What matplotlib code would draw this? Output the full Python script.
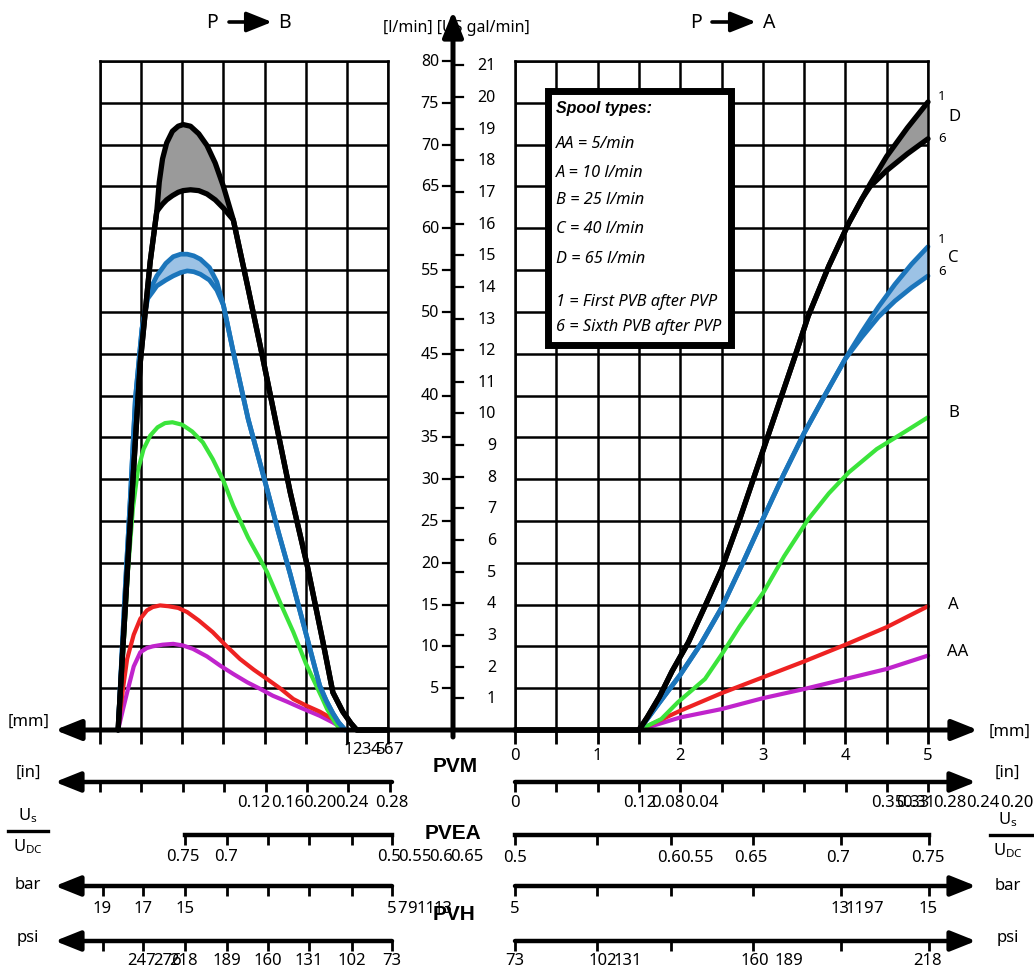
import numpy as np
import matplotlib.pyplot as plt
import matplotlib.transforms as mtransforms
from matplotlib.patches import Rectangle

plt.rcParams['font.family'] = ['Noto Sans', 'DejaVu Sans']
plt.rcParams['mathtext.default'] = 'regular'

# ---------------- data: P -> B (mm counted outwards from the centre) ----------------
pb_d_mm = [3.28, 3.15, 3.01, 2.89, 2.81, 2.78, 2.74, 2.69, 2.62, 2.55, 2.49, 2.40, 2.30, 2.20,
           2.10, 2.00, 1.88, 1.70, 1.52, 1.35, 1.19, 0.98, 0.79, 0.67, 0.55, 0.45, 0.38, 0.0]
pb_d1 = [0, 22, 44, 56, 62, 65.5, 68.3, 70.2, 71.6, 72.2, 72.4, 72.2, 71.3, 69.9,
         67.8, 65.0, 61.0, 52.8, 44.4, 36.2, 28.5, 19.6, 10.5, 4.5, 2.2, 0.8, 0, 0]
pb_d6 = [0, 22, 44, 56, 62, 62.4, 62.9, 63.4, 63.9, 64.3, 64.5, 64.6, 64.5, 64.1,
         63.4, 62.4, 61.0, 52.8, 44.4, 36.2, 28.5, 19.6, 10.5, 4.5, 2.2, 0.8, 0, 0]

pb_c_mm = [3.28, 3.20, 3.13, 3.07, 2.99, 2.92, 2.86, 2.81, 2.70, 2.61, 2.52, 2.44, 2.36, 2.28,
           2.17, 2.08, 2.00, 1.88, 1.70, 1.47, 1.33, 1.19, 1.08, 0.98, 0.90, 0.83, 0.75, 0.67,
           0.60, 0.52]
pb_c1 = [0, 15.7, 28, 39.6, 48.0, 51.9, 53.3, 54.3, 55.8, 56.6, 56.9, 56.9, 56.7, 56.3,
         55.3, 53.6, 50.8, 45.2, 37.2, 28.8, 23.6, 18.7, 14.6, 10.9, 7.9, 5.3, 3.5, 2.0,
         0.9, 0]
pb_c6 = [0, 15.7, 28, 39.6, 48.0, 51.6, 52.4, 53.1, 53.8, 54.3, 54.7, 54.9, 54.8, 54.5,
         53.8, 52.6, 50.8, 45.2, 37.2, 28.8, 23.6, 18.7, 14.6, 10.9, 7.9, 5.3, 3.5, 2.0,
         0.9, 0]

pb_b_mm = [3.28, 3.22, 3.16, 3.10, 3.04, 2.97, 2.89, 2.80, 2.71, 2.62, 2.50, 2.38, 2.25, 2.13,
           2.00, 1.88, 1.70, 1.47, 1.30, 1.15, 1.00, 0.91, 0.80, 0.74, 0.65, 0.58]
pb_b = [0, 9, 19, 26.5, 31, 33.6, 35.2, 36.2, 36.7, 36.8, 36.5, 35.7, 34.4, 32.4,
        29.8, 26.8, 23.0, 18.9, 15.0, 11.7, 8.0, 6.1, 3.8, 2.5, 1.0, 0]

pb_a_mm = [3.28, 3.22, 3.17, 3.09, 3.01, 2.93, 2.86, 2.77, 2.67, 2.55, 2.44, 2.30, 2.13, 1.97,
           1.80, 1.63, 1.47, 1.30, 1.15, 0.99, 0.83, 0.67, 0.52]
pb_a = [0, 5, 8.5, 11.4, 13.3, 14.3, 14.7, 14.9, 14.8, 14.6, 14.1, 13.1, 11.7, 10.1,
        8.5, 7.2, 6.1, 4.9, 3.7, 2.9, 2.2, 1.3, 0]

pb_aa_mm = [3.28, 3.22, 3.17, 3.09, 3.01, 2.93, 2.86, 2.74, 2.61, 2.49, 2.37, 2.20, 2.04, 1.88,
            1.71, 1.55, 1.40, 1.23, 1.07, 0.95, 0.83, 0.67, 0.52]
pb_aa = [0, 2.5, 4.5, 7.6, 9.3, 9.8, 10.0, 10.2, 10.3, 10.1, 9.7, 8.8, 7.7, 6.7,
         5.7, 4.9, 4.1, 3.4, 2.7, 2.2, 1.7, 0.9, 0]

# ---------------- data: P -> A ----------------
pa_d_mm = [0, 1.5, 1.6, 1.75, 1.9, 2.1, 2.3, 2.5, 2.72, 3.05, 3.38, 3.55, 3.80, 4.04, 4.20,
           4.30, 4.50, 4.75, 5.0]
pa_d1 = [0, 0, 1.5, 4.0, 7.0, 10.5, 14.8, 19.2, 25.2, 34.8, 44.4, 49.5, 55.5, 60.6, 63.5,
         65.3, 68.6, 72.0, 75.1]
pa_d6 = [0, 0, 1.5, 4.0, 7.0, 10.5, 14.8, 19.2, 25.2, 34.8, 44.4, 49.5, 55.5, 60.6, 63.5,
         65.0, 66.9, 68.9, 70.7]

pa_c_mm = [1.5, 1.6, 1.75, 2.0, 2.25, 2.5, 2.75, 3.0, 3.25, 3.5, 3.75, 4.0, 4.2, 4.4, 4.6, 4.8, 5.0]
pa_c1 = [0, 1.3, 3.3, 6.6, 10.3, 14.6, 19.8, 25.2, 30.5, 35.5, 40.0, 44.4, 47.6, 50.6, 53.3, 55.7, 57.8]
pa_c6 = [0, 1.3, 3.3, 6.6, 10.3, 14.6, 19.8, 25.2, 30.5, 35.5, 40.0, 44.4, 47.0, 49.4, 51.3, 52.9, 54.3]

pa_b_mm = [1.5, 1.77, 1.97, 2.30, 2.52, 2.72, 3.01, 3.26, 3.55, 3.80, 4.04, 4.38, 4.71, 5.0]
pa_b = [0, 1.3, 3.3, 6.1, 9.3, 12.4, 16.5, 20.8, 25.2, 28.3, 30.8, 33.6, 35.6, 37.4]

pa_a_mm = [1.5, 2.0, 2.5, 3.0, 3.5, 4.0, 4.5, 5.0]
pa_a = [0, 2.3, 4.4, 6.3, 8.2, 10.2, 12.3, 14.8]

pa_aa_mm = [1.5, 2.0, 2.5, 3.0, 3.5, 4.0, 4.5, 5.0]
pa_aa = [0, 1.5, 2.5, 3.8, 4.9, 6.1, 7.3, 8.9]

lpm_ticks = list(range(5, 81, 5))
gal_ticks = list(range(1, 22))
LPM_PER_GAL = 3.785

legend_title = 'Spool types:'
legend_lines = ['AA = 5/min', 'A = 10 l/min', 'B = 25 l/min', 'C = 40 l/min', 'D = 65 l/min',
                '', '1 = First PVB after PVP', '6 = Sixth PVB after PVP']

# bottom scale labels (as printed on the original sheet)
mm_left_labels = ['1', '2', '3', '4', '5', '6', '7']
in_left_labels = ['0.12', '0.16', '0.20', '0.24', '0.28']
in_right_labels = ['0', '0.12', '0.08', '0.04', '0.35', '0.33', '0.31', '0.28', '0.24', '0.20']
pvea_left_labels = ['0.75', '0.7', '0.5', '0.55', '0.6', '0.65']
pvea_right_labels = ['0.5', '0.6', '0.55', '0.65', '0.7', '0.75']
bar_left_labels = ['19', '17', '15', '5', '7', '9', '11', '13']
bar_right_labels = ['5', '13', '11', '9', '7', '15']
psi_left_labels = ['247', '276', '218', '189', '160', '131', '102', '73']
psi_right_labels = ['73', '102', '131', '160', '189', '218']

# label positions (pixels) for the printed scales
mm_left_x = [348, 357, 366, 375, 381, 388, 398]
in_left_x = [254, 288, 320, 352, 392]
in_right_x = [515, 640, 668, 702, 888, 913, 919, 950, 983, 1017]
pvea_left_x = [183, 226, 389, 415, 441, 467]
pvea_right_x = [515, 669, 697, 751, 838, 928]
bar_left_x = [102, 143, 185, 392, 402, 412, 426, 443]
bar_right_x = [515, 840, 855, 868, 878, 928]
psi_left_x = [142, 168, 184, 227, 268, 309, 352, 392]
psi_right_x = [515, 603, 628, 755, 789, 928]

grid_left_ticks = [100, 141, 183, 224, 266, 307, 348, 390]
grid_right_ticks = [515, 556, 598, 639, 680, 722, 763, 804, 846, 887, 928]
pvea_left_ticks = [185, 227, 268, 309, 352, 392]
pvh_left_ticks = [103, 143, 185, 227, 268, 309, 352, 392]
pv_right_ticks = [515, 597, 671, 753, 841, 929]

BLACK = '#000000'
BLUE = '#1b75bb'
LBLUE = '#9cc2e5'
GREEN = '#3be43b'
RED = '#ee2222'
MAG = '#c024cc'
GREY = '#9a9a9a'
BOLD_FONT = ['Liberation Sans', 'DejaVu Sans']

W, H = 1034, 979
fig = plt.figure(figsize=(W / 100, H / 100), dpi=100)


def px_axes(x0, x1, y0, y1):
    return fig.add_axes([x0 / W, 1 - y1 / H, (x1 - x0) / W, (y1 - y0) / H])


ax_b = px_axes(100, 388, 62, 731)
ax_a = px_axes(515, 928, 62, 731)

for ax in (ax_b, ax_a):
    ax.set_ylim(0, 80)
    ax.set_yticks(np.arange(0, 81, 5))
    ax.set_axisbelow(True)
    ax.grid(True, color='black', linewidth=1.8)
    ax.tick_params(axis='y', length=0, labelleft=False)
    ax.tick_params(axis='x', direction='out', length=10, width=2, labelsize=12, pad=2)
    for s in ax.spines.values():
        s.set_linewidth(1.8)

ax_b.set_xlim(3.5, 0)
ax_b.set_xticks(np.arange(0, 3.51, 0.5))
ax_b.tick_params(axis='x', labelbottom=False)

ax_a.set_xlim(0, 5)
xt = np.arange(0, 5.01, 0.5)
ax_a.set_xticks(xt)
ax_a.set_xticklabels([str(int(v)) if v == int(v) else '' for v in xt])


def draw(ax, x, y, color, lw):
    ax.plot(x, y, color=color, lw=lw, clip_on=False, solid_capstyle='round', solid_joinstyle='round')


def band(ax, x, top, bottom, color, fill, lw):
    ax.fill_between(x, bottom, top, color=fill, lw=0)
    draw(ax, x, top, color, lw)
    draw(ax, x, bottom, color, lw)


# P -> B curves
draw(ax_b, pb_aa_mm, pb_aa, MAG, 3)
draw(ax_b, pb_a_mm, pb_a, RED, 3)
draw(ax_b, pb_b_mm, pb_b, GREEN, 3)
band(ax_b, pb_c_mm, pb_c1, pb_c6, BLUE, LBLUE, 3.4)
band(ax_b, pb_d_mm, pb_d1, pb_d6, BLACK, GREY, 3.8)

# P -> A curves
draw(ax_a, pa_aa_mm, pa_aa, MAG, 3)
draw(ax_a, pa_a_mm, pa_a, RED, 3)
draw(ax_a, pa_b_mm, pa_b, GREEN, 3)
band(ax_a, pa_c_mm, pa_c1, pa_c6, BLUE, LBLUE, 3.4)
band(ax_a, pa_d_mm, pa_d1, pa_d6, BLACK, GREY, 3.8)


# curve end labels
def end_label(txt, x, y, dx, dy, size=12):
    ax_a.annotate(txt, xy=(x, y), xytext=(dx, dy), textcoords='offset pixels',
                  ha='left', va='center', fontsize=size, annotation_clip=False)


end_label('1', pa_d_mm[-1], pa_d1[-1], 10, 6, 9.5)
end_label('D', pa_d_mm[-1], pa_d1[-1], 20, -14)
end_label('6', pa_d_mm[-1], pa_d6[-1], 10, 1, 9.5)
end_label('1', pa_c_mm[-1], pa_c1[-1], 10, 8, 9.5)
end_label('C', pa_c_mm[-1], pa_c1[-1], 20, -10)
end_label('6', pa_c_mm[-1], pa_c6[-1], 10, 5, 9.5)
end_label('B', pa_b_mm[-1], pa_b[-1], 20, 5)
end_label('A', pa_a_mm[-1], pa_a[-1], 20, 2)
end_label('AA', pa_aa_mm[-1], pa_aa[-1], 19, 5)

# ---------------- overlay: axes arrows, centre scale, bottom scales ----------------
ov = fig.add_axes([0, 0, 1, 1], facecolor='none')
ov.set_autoscale_on(False)
ov.set_xlim(0, W)
ov.set_ylim(H, 0)
ov.axis('off')


def arrow(x0, y0, x1, y1, lw=3.6):
    ov.annotate('', xy=(x1, y1), xytext=(x0, y0),
                arrowprops=dict(arrowstyle='-|>,head_length=0.7,head_width=0.28', color='black',
                                lw=lw, shrinkA=0, shrinkB=0, mutation_scale=22))


def ticks(xs, y, length=10):
    for x in xs:
        ov.plot([x, x], [y, y + length], color='black', lw=2, solid_capstyle='butt')


def labels(txts, xs, y, size=12):
    for t, x in zip(txts, xs):
        ov.text(x, y, t, ha='center', va='center', fontsize=size)


def bold(x, y, txt):
    ov.text(x, y, txt, ha='center', va='center', fontsize=15, fontweight='bold', family=BOLD_FONT)


# titles
ov.text(212, 23, 'P', ha='center', va='center', fontsize=14)
arrow(229, 23, 272, 23, lw=2.6)
ov.text(284, 23, 'B', ha='center', va='center', fontsize=14)
ov.text(696, 23, 'P', ha='center', va='center', fontsize=14)
arrow(712, 23, 756, 23, lw=2.6)
ov.text(769, 23, 'A', ha='center', va='center', fontsize=14)
ov.text(456, 28, '[l/min] [US gal/min]', ha='center', va='center', fontsize=11.5)

# main mm axis and centre flow axis
arrow(453, 731, 55, 731)
arrow(453, 731, 978, 731)
arrow(453, 738, 453, 12)

tr = mtransforms.blended_transform_factory(ov.transData, ax_b.transData)
for v in lpm_ticks:
    ov.plot([443, 453], [v, v], color='black', lw=1.6, transform=tr)
    ov.text(439, v, str(v), ha='right', va='center', fontsize=11.5, transform=tr)
for g in gal_ticks:
    ov.plot([453, 463], [g * LPM_PER_GAL] * 2, color='black', lw=1.6, transform=tr)
    ov.text(496, g * LPM_PER_GAL, str(g), ha='right', va='center', fontsize=11.5, transform=tr)

labels(mm_left_labels, mm_left_x, 750)
ov.text(29, 722, '[mm]', ha='center', va='center', fontsize=12)
ov.text(1010, 732, '[mm]', ha='center', va='center', fontsize=12)
bold(455, 767, 'PVM')

# inch scale
arrow(392, 783, 55, 783, lw=3.2)
arrow(515, 783, 976, 783, lw=3.2)
ticks(grid_left_ticks, 783)
ticks(grid_right_ticks, 783)
labels(in_left_labels, in_left_x, 803)
labels(in_right_labels, in_right_x, 803)
ov.text(28, 773, '[in]', ha='center', va='center', fontsize=12)
ov.text(1007, 773, '[in]', ha='center', va='center', fontsize=12)

# PVEA voltage ratio scale
ov.plot([185, 392], [836, 836], color='black', lw=3.2)
ov.plot([515, 929], [836, 836], color='black', lw=3.2)
ticks(pvea_left_ticks, 836)
ticks(pv_right_ticks, 836)
labels(pvea_left_labels, pvea_left_x, 857)
labels(pvea_right_labels, pvea_right_x, 858)
bold(453, 834, 'PVEA')
for xc, xl0, xl1, yc in [(28, 8, 48, 832), (1008, 990, 1034, 836)]:
    ov.text(xc, yc - 16, '$U_s$', ha='center', va='center', fontsize=12)
    ov.plot([xl0, xl1], [yc, yc], color='black', lw=2.4)
    ov.text(xc, yc + 15, '$U_{DC}$', ha='center', va='center', fontsize=12)

# PVH pressure scales
arrow(392, 887, 55, 887, lw=3.2)
arrow(515, 887, 976, 887, lw=3.2)
ticks(pvh_left_ticks, 887)
ticks(pv_right_ticks, 887)
labels(bar_left_labels, bar_left_x, 909)
labels(bar_right_labels, bar_right_x, 909)
ov.text(28, 885, 'bar', ha='center', va='center', fontsize=12)
ov.text(1008, 886, 'bar', ha='center', va='center', fontsize=12)
bold(454, 915, 'PVH')

arrow(392, 942, 55, 942, lw=3.2)
arrow(515, 942, 976, 942, lw=3.2)
ticks(pvh_left_ticks, 942)
ticks(pv_right_ticks, 942)
labels(psi_left_labels, psi_left_x, 961)
labels(psi_right_labels, psi_right_x, 961)
ov.text(28, 938, 'psi', ha='center', va='center', fontsize=12)
ov.text(1008, 938, 'psi', ha='center', va='center', fontsize=12)

# spool legend box
ov.add_patch(Rectangle((548, 92), 183, 254, facecolor='white', edgecolor='black', lw=5))
ov.text(556, 109, legend_title, ha='left', va='center', fontsize=11.5,
        fontstyle='italic', fontweight='bold', family=BOLD_FONT)
for line, y in zip(legend_lines, [144, 173, 200, 229, 259, 280, 302, 327]):
    ov.text(556, y, line, ha='left', va='center', fontsize=11.8, fontstyle='italic')

fig.savefig('out.png', dpi=100)
